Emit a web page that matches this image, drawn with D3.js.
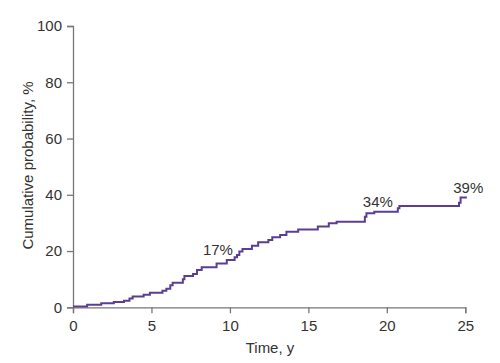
<meta charset="utf-8">
<style>body { margin: 0; } svg { display: block; }</style>
<svg width="500" height="363"></svg>
<script src="https://d3js.org/d3.v7.min.js"></script>
<script>
var svg = d3.select("svg");

// step curve: time (y) and cumulative % after each step
var times  = [0, 0.9, 1.8, 2.6, 3.25, 3.6, 3.8, 4.5, 4.9, 5.7, 5.95, 6.2, 6.35, 7.0, 7.1, 7.65, 7.9, 8.2,
              9.15, 9.8, 10.3, 10.45, 10.6, 10.8, 11.4, 11.8, 12.45, 12.7, 13.2, 13.6, 14.35, 15.6, 16.3,
              16.8, 18.6, 18.7, 19.2, 20.7, 20.8, 24.6, 24.7, 25.1];
var values = [0.3, 0.9, 1.4, 1.9, 2.3, 3.1, 3.8, 4.5, 5.2, 5.9, 6.6, 7.8, 8.7, 10.0, 11.1, 11.8, 13.3, 14.2,
              15.6, 16.8, 17.8, 18.6, 19.8, 20.7, 21.9, 23.1, 23.9, 24.9, 25.7, 26.9, 27.7, 28.7, 29.9,
              30.4, 32.2, 33.4, 34.0, 35.2, 36.0, 37.2, 39.0, 39.0];

var xTicks = [0, 5, 10, 15, 20, 25];
var yTicks = [0, 20, 40, 60, 80, 100];

// labelled points on the curve
var labelTimes  = [10, 20, 25];
var labelValues = [17, 34, 39];
var labelText   = ["17%", "34%", "39%"];

var x = d3.scaleLinear().domain([0, 25]).range([73, 465.3]);
var y = d3.scaleLinear().domain([0, 100]).range([307.3, 26]);

var font = "'Liberation Sans', Arial, sans-serif";
var axisCol = "#777";
var textCol = "#333";

var xAxis = svg.append("g")
    .attr("transform", "translate(0," + y(0) + ")")
    .call(d3.axisBottom(x).tickValues(xTicks).tickSizeOuter(0).tickSize(6).tickPadding(7));

var yAxis = svg.append("g")
    .attr("transform", "translate(" + x(0) + ",0)")
    .call(d3.axisLeft(y).tickValues(yTicks).tickSizeOuter(0).tickSize(6).tickPadding(5));

[xAxis, yAxis].forEach(function(g) {
    g.select(".domain").attr("stroke", axisCol).attr("stroke-width", 1.3);
    g.selectAll(".tick line").attr("stroke", axisCol).attr("stroke-width", 1.3);
    g.selectAll("text").attr("fill", textCol).style("font-family", font).style("font-size", "15px");
});

var pts = times.map(function(t, i) { return [t, values[i]]; });

var line = d3.line()
    .x(function(d) { return x(d[0]); })
    .y(function(d) { return y(d[1]); })
    .curve(d3.curveStepAfter);

svg.append("path")
    .datum(pts)
    .attr("d", line)
    .attr("fill", "none")
    .attr("stroke", "#5b3e92")
    .attr("stroke-width", 2);

// nudges so the labels sit just above-left of their point
var dx = [-12, -9, 3];
var dy = [-4.5, -5, -5];

svg.selectAll(".lbl")
    .data(labelTimes)
    .enter()
    .append("text")
    .attr("class", "lbl")
    .attr("x", function(d, i) { return x(d) + dx[i]; })
    .attr("y", function(d, i) { return y(labelValues[i]) + dy[i]; })
    .attr("text-anchor", "middle")
    .attr("fill", textCol)
    .style("font-family", font)
    .style("font-size", "15px")
    .text(function(d, i) { return labelText[i]; });

svg.append("text")
    .attr("x", 270)
    .attr("y", 352.5)
    .attr("text-anchor", "middle")
    .attr("fill", textCol)
    .style("font-family", font)
    .style("font-size", "15px")
    .text("Time, y");

svg.append("text")
    .attr("transform", "translate(33,165.5) rotate(-90)")
    .attr("text-anchor", "middle")
    .attr("fill", textCol)
    .style("font-family", font)
    .style("font-size", "15px")
    .text("Cumulative probability, %");
</script>
